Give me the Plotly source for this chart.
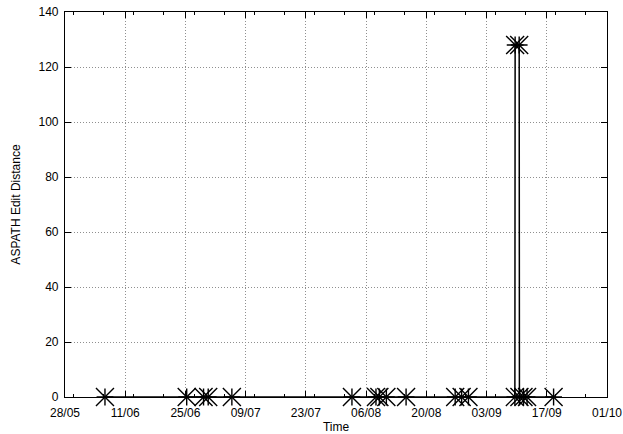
import plotly.graph_objects as go

# Observation times and the AS-path edit distance measured at each one
times = [
    "2004-06-06 07:00", "2004-06-25 07:00", "2004-06-29 05:00", "2004-06-30 07:00",
    "2004-07-05 19:00", "2004-08-02 17:00", "2004-08-08 07:00", "2004-08-09 02:00",
    "2004-08-10 17:00", "2004-08-15 07:00", "2004-08-26 17:00", "2004-08-28 05:00",
    "2004-08-29 19:00", "2004-09-09 14:00", "2004-09-09 15:30", "2004-09-10 14:00",
    "2004-09-10 15:30", "2004-09-11 14:00", "2004-09-12 10:00", "2004-09-18 14:00",
]
distance = [0, 0, 0, 0, 0, 0, 0, 0, 0, 0, 0, 0, 0, 0, 128, 128, 0, 0, 0, 0]

x_range = ["2004-05-28", "2004-10-01"]
DAY_MS = 86400000

font = dict(family="Liberation Sans, Arial, sans-serif", size=12, color="black")

fig = go.Figure()
# connecting line plus the diagonal strokes of each star
fig.add_trace(go.Scatter(
    x=times, y=distance, mode="lines+markers",
    line=dict(color="black", width=1.5),
    marker=dict(symbol="x-thin-open", size=18, color="black",
                line=dict(color="black", width=1.4)),
    cliponaxis=False, showlegend=False,
))
# upright strokes of each star
fig.add_trace(go.Scatter(
    x=times, y=distance, mode="markers",
    marker=dict(symbol="cross-thin-open", size=12, color="black",
                line=dict(color="black", width=1.4)),
    cliponaxis=False, showlegend=False,
))

axis_common = dict(
    showline=True, linecolor="black", linewidth=1.2, mirror="ticks",
    ticks="inside", ticklen=6, tickcolor="black", tickwidth=1,
    showgrid=True, gridcolor="#8f8f8f", griddash="1px,2px", gridwidth=1,
    zeroline=False, tickfont=font, automargin=False,
)

fig.update_xaxes(
    type="date", range=x_range, tick0=x_range[0], dtick=14 * DAY_MS,
    tickformat="%d/%m", ticklabelstandoff=4,
    minor=dict(dtick=7 * DAY_MS, ticks="inside", ticklen=3, tickcolor="black", showgrid=False),
    title=dict(text="Time", font=font, standoff=4),
    **axis_common,
)
fig.update_yaxes(
    range=[0, 140], dtick=20, ticklabelstandoff=3,
    title=dict(text="ASPATH Edit Distance", font=font, standoff=15),
    **axis_common,
)

fig.update_layout(
    width=623, height=434,
    margin=dict(l=65, r=16, t=12, b=37),
    paper_bgcolor="white", plot_bgcolor="white",
    font=font,
)

fig.write_html("out.html")
